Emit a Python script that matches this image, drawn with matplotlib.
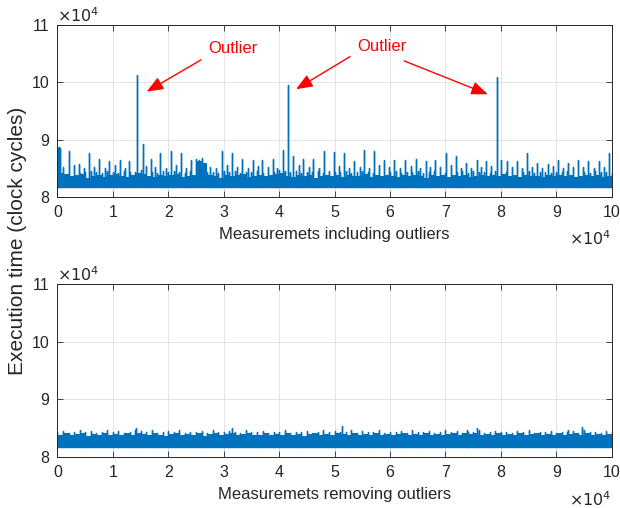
import matplotlib.pyplot as plt
import numpy as np

plt.rcParams['font.family'] = ['Liberation Sans', 'DejaVu Sans']

# floor of the noise band (clock cycles)
band_low = 81800

# measurement index of the texture samples, one every 1000 runs
sample_idx = np.arange(0, 100001, 1000)

# solid part of the band per 1000-run block
top_shelf = [84200, 84000, 83600, 83800, 84000, 83400, 83700, 83900, 83500, 83800,
             84000, 83600, 83500, 83900, 84100, 84000, 83700, 83500, 83900, 83600,
             83800, 84000, 83500, 83700, 83900, 86300, 86000, 83800, 83600, 83400,
             83900, 83600, 83800, 84000, 83500, 83700, 83900, 83600, 83800, 84000,
             84100, 83700, 83500, 83900, 83600, 83800, 83400, 83700, 83900, 83600,
             83800, 83500, 83900, 83700, 83600, 84000, 83500, 83800, 83600, 83900,
             83700, 83500, 83800, 83600, 83900, 83700, 83400, 83800, 83600, 83900,
             83500, 83800, 83600, 83900, 83500, 83700, 83800, 83600, 83900, 83700,
             84000, 83600, 83800, 83500, 83900, 83600, 83700, 83500, 83800, 83600,
             83900, 83600, 83800, 83500, 83700, 83900, 83600, 83800, 83500, 83700]

bottom_shelf = [83900, 84100, 83800, 84000, 84200, 83700, 84000, 83900, 84100, 83800,
                84000, 83800, 84100, 83900, 84200, 84000, 83800, 84100, 83900, 83700,
                84000, 84100, 83800, 84000, 83900, 84100, 83700, 84000, 84200, 83900,
                84000, 84200, 83800, 84000, 84100, 83900, 83800, 84100, 83900, 84000,
                83800, 84100, 83900, 84000, 83700, 84000, 84100, 83800, 84000, 83900,
                84200, 84000, 83800, 84100, 83900, 84000, 83800, 84100, 83900, 84000,
                83800, 84000, 84100, 83900, 84000, 83800, 84100, 83900, 84000, 83800,
                84000, 84100, 83900, 84200, 84000, 84100, 83800, 84000, 83900, 84100,
                83900, 84000, 83800, 84100, 83900, 84000, 84100, 83800, 84000, 83900,
                84100, 83800, 84000, 84200, 83900, 84100, 83800, 84000, 83900, 84000]

# thin peaks rising out of the band at each sample
top_texture = [84600, 84400, 84500, 84300, 84200, 84400, 84600, 84300, 84200, 84500,
               84400, 84200, 84600, 84300, 84300, 84700, 84600, 84400, 84200, 84500,
               84300, 84600, 84400, 84200, 84500, 86700, 86800, 84400, 84300, 84200,
               84500, 84300, 84600, 84200, 84400, 84300, 84500, 84200, 84400, 84300,
               84700, 84500, 84300, 84600, 84200, 84400, 84300, 84500, 84200, 84600,
               84400, 84300, 84500, 84200, 84400, 84600, 84300, 84200, 84500, 84400,
               84300, 84500, 84200, 84400, 84300, 84600, 84200, 84400, 84500, 84300,
               84200, 84400, 84300, 84600, 84200, 84500, 84300, 84400, 84200, 84600,
               84500, 84300, 84200, 84400, 84300, 84500, 84200, 84400, 84300, 84200,
               84400, 84300, 84500, 84200, 84400, 84300, 84200, 84500, 84300, 84400,
               84300]

bottom_texture = [84300, 84500, 84200, 84400, 84700, 84300, 84500, 84200, 84400, 84600,
                  84300, 84500, 84200, 84400, 84600, 84500, 84300, 84600, 84200, 84400,
                  84500, 84300, 84600, 84200, 84400, 84300, 84500, 84200, 84600, 84400,
                  84300, 84500, 84400, 84200, 84600, 84300, 84400, 84500, 84200, 84400,
                  84300, 84600, 84200, 84400, 84300, 84500, 84200, 84400, 84600, 84300,
                  84500, 84400, 84300, 84600, 84200, 84500, 84300, 84400, 84600, 84200,
                  84400, 84300, 84500, 84200, 84600, 84300, 84400, 84500, 84200, 84400,
                  84600, 84300, 84500, 84200, 84400, 84300, 84600, 84200, 84400, 84500,
                  84300, 84400, 84200, 84500, 84300, 84600, 84200, 84400, 84300, 84500,
                  84200, 84400, 84300, 84500, 84200, 84600, 84300, 84400, 84200, 84500,
                  84300]

# individual peaks (measurement index, cycles)
top_spike_x = [0, 150, 300, 450, 2080, 3800, 5740, 7550, 9360, 11280, 12970, 14290,
               15430, 16820, 18560, 20430, 22230, 24100, 25500, 29640, 31440, 33360,
               35230, 36970, 38840, 40650, 41670, 42570, 44370, 46170, 48040, 49880,
               51710, 53520, 55380, 57190, 58990, 60800, 62730, 64660, 66460, 68200,
               70070, 71880, 73740, 75660, 77350, 79280, 80000, 81200, 83000, 84690,
               86610, 88480, 90400, 92200, 94010, 95810, 97690, 99550]
top_spike_y = [88800, 88500, 88700, 88600, 88000, 85800, 87700, 86600, 86300, 86500,
               86200, 101200, 89200, 86600, 87700, 88000, 87600, 86500, 86500, 88000,
               87600, 86600, 86500, 86500, 86600, 88200, 99500, 87200, 86600, 86600,
               88000, 87900, 87600, 86300, 88200, 88000, 86500, 86500, 86400, 86600,
               86300, 86500, 87700, 87200, 86000, 86500, 86300, 101000, 86500, 86300,
               86300, 87700, 86000, 85700, 86500, 85900, 86500, 86300, 86300, 87700]

# smaller peaks between the large ones
top_minor_x = [1000, 3000, 4700, 6600, 8500, 10300, 12100, 16000, 17600, 19500,
               21300, 23200, 27600, 28600, 30500, 32400, 34300, 36100, 37900, 39700,
               43500, 45300, 47100, 50800, 52600, 54500, 56300, 58100, 59900, 61800,
               63700, 65500, 67300, 69100, 71000, 72800, 74700, 76500, 78300, 82100,
               83900, 85600, 87500, 89400, 91300, 93100, 94900, 96800, 98600]
top_minor_y = [85200, 85500, 85000, 85300, 85100, 85600, 85000, 85400, 85200, 85100,
               85500, 85000, 85300, 85100, 85600, 85200, 85000, 85400, 85300, 85100,
               85500, 85200, 85000, 85400, 85100, 85300, 85000, 85500, 85200, 85100,
               85400, 85000, 85300, 85200, 85500, 85100, 85000, 85300, 85400, 85200,
               85000, 85300, 85100, 85400, 85000, 85200, 85300, 85100, 85200]

bottom_spike_x = [4060, 14190, 31440, 51400, 73860, 75660, 92100, 94730]
bottom_spike_y = [84700, 85000, 85000, 85400, 84700, 85000, 84700, 85200]

blue = '#0072BD'
dark = '#262626'


def series(spike_x, spike_y, texture):
    # each sample rises from the band floor to its peak and falls back
    px = np.concatenate([sample_idx, spike_x])
    py = np.concatenate([texture, spike_y])
    order = np.argsort(px, kind='stable')
    xs = np.repeat(px[order], 3)
    ys = np.column_stack([np.full(len(px), band_low), py[order],
                          np.full(len(px), band_low)]).ravel()
    return xs, ys


def style(ax, xlabel):
    ax.set_xlim(0, 100000)
    ax.set_ylim(80000, 110000)
    ax.set_xticks(np.arange(0, 100001, 10000))
    ax.set_yticks([80000, 90000, 100000, 110000])
    ax.set_xticklabels([str(i) for i in range(11)])
    ax.set_yticklabels(['8', '9', '10', '11'])
    ax.grid(True, color='#dedede', linewidth=0.6)
    ax.set_axisbelow(True)
    ax.tick_params(direction='in', top=True, right=True, length=4, width=0.6,
                   labelsize=11.5, colors=dark, pad=6)
    for s in ax.spines.values():
        s.set_color(dark)
        s.set_linewidth(0.7)
    ax.set_xlabel(xlabel, fontsize=12, color=dark, labelpad=5)
    ax.text(0.0, 0.998, r'$\times10^4$', transform=ax.transAxes, fontsize=11.5,
            color=dark, ha='left', va='bottom')
    ax.text(1.0, -0.19, r'$\times10^4$', transform=ax.transAxes, fontsize=11.5,
            color=dark, ha='right', va='top')


fig = plt.figure(figsize=(6.2, 5.08), dpi=100)
ax1 = fig.add_axes([0.0927, 0.6122, 0.8939, 0.3386])
ax2 = fig.add_axes([0.0927, 0.1004, 0.8939, 0.3405])

for ax, sx, sy, tex, shelf, lab in [
        (ax1, top_spike_x + top_minor_x, top_spike_y + top_minor_y, top_texture,
         top_shelf, 'Measuremets including outliers'),
        (ax2, bottom_spike_x, bottom_spike_y, bottom_texture, bottom_shelf,
         'Measuremets removing outliers')]:
    ax.fill_between(sample_idx, band_low, shelf + shelf[-1:], step='post',
                    color=blue, lw=0)
    xs, ys = series(sx, sy, tex)
    ax.plot(xs, ys, color=blue, lw=1.0)
    style(ax, lab)

# outlier annotations
arrow = dict(arrowstyle='-|>,head_length=1.0,head_width=0.4', color='red',
             lw=1.0, shrinkA=0, shrinkB=0)
ax1.text(31620, 105830, 'Outlier', color='red', fontsize=12, ha='center', va='center')
ax1.text(58570, 106180, 'Outlier', color='red', fontsize=12, ha='center', va='center')
ax1.annotate('', xy=(16100, 98380), xytext=(25900, 103910), arrowprops=arrow)
ax1.annotate('', xy=(43050, 98800), xytext=(52800, 104490), arrowprops=arrow)
ax1.annotate('', xy=(77650, 97920), xytext=(62550, 103740), arrowprops=arrow)

fig.text(0.029, 0.5256, 'Execution time (clock cycles)', rotation=90, fontsize=15,
         color=dark, ha='center', va='center')

fig.savefig('out.png', dpi=100)
